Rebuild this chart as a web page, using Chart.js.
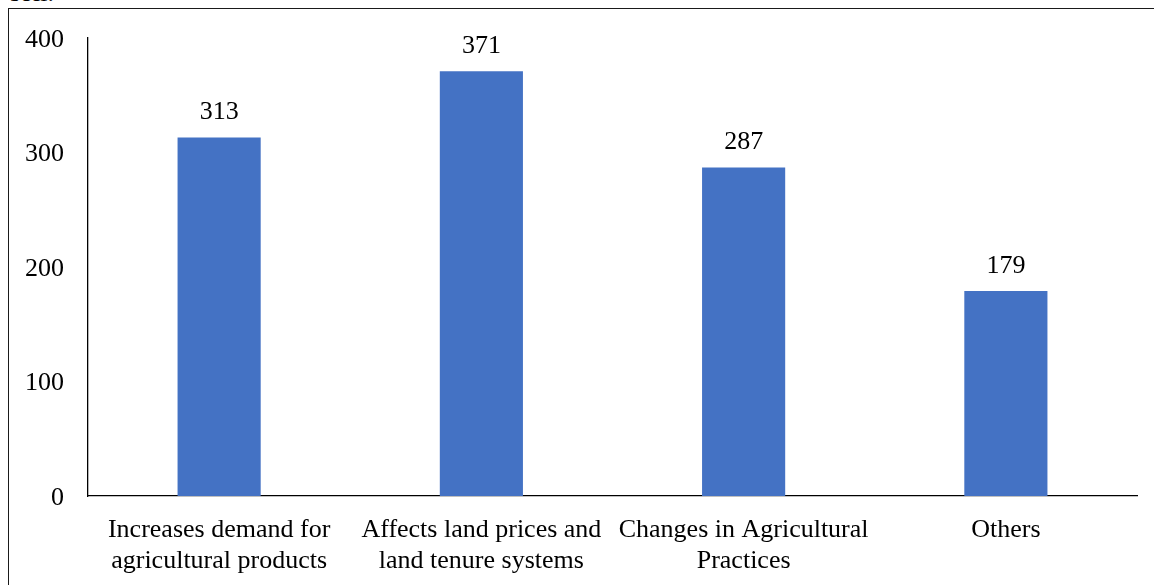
<!DOCTYPE html>
<html>
<head>
<meta charset="utf-8">
<script src="https://cdn.jsdelivr.net/npm/chart.js@4/dist/chart.umd.min.js"></script>
<style>
	html, body { margin: 0; padding: 0; background: #fff; overflow: hidden; }
	body { width: 1154px; height: 585px; position: relative; }
	#frame { position: absolute; left: 8px; top: 8px; width: 1300px; height: 700px; border: 1.5px solid #1a1a1a; box-sizing: border-box; }
	#cut { position: absolute; left: 10px; top: -22px; font: 26px 'Liberation Serif', serif; color: #000; }
	#wrap { position: absolute; left: 0; top: 0; width: 1154px; height: 585px; }
</style>
</head>
<body>
<div id="cut">soil.</div>
<div id="frame"></div>
<div id="wrap"><canvas id="chart"></canvas></div>
<script>
( function () {
	'use strict';

	var categories = [
		[ 'Increases demand for', 'agricultural products' ],
		[ 'Affects land prices and', 'land tenure systems' ],
		[ 'Changes in Agricultural', 'Practices' ],
		[ 'Others' ],
	];
	var counts = [ 313, 371, 287, 179 ];
	var yTicks = [ 0, 100, 200, 300, 400 ];

	var serif = "'Liberation Serif', 'Times New Roman', serif";

	// value labels above each bar
	var barLabels = {
		id: 'barLabels',
		afterDatasetsDraw: function ( chart ) {
			var ctx = chart.ctx;
			var meta = chart.getDatasetMeta( 0 );
			ctx.save();
			ctx.font = '26px ' + serif;
			ctx.fillStyle = '#000';
			ctx.textAlign = 'center';
			ctx.textBaseline = 'middle';
			meta.data.forEach( function ( bar, i ) {
				ctx.fillText( String( counts[ i ] ), bar.x, bar.y - 25 );
			} );
			ctx.restore();
		},
	};

	new Chart( document.getElementById( 'chart' ).getContext( '2d' ), {
		type: 'bar',
		data: {
			labels: categories,
			datasets: [ {
				data: counts,
				backgroundColor: '#4472C4',
				borderWidth: 0,
				categoryPercentage: 1,
				barPercentage: 0.317,
			} ],
		},
		options: {
			responsive: true,
			maintainAspectRatio: false,
			animation: false,
			layout: { padding: { top: 38, right: 17, bottom: 0, left: 0 } },
			plugins: {
				legend: { display: false },
				tooltip: { enabled: false },
			},
			scales: {
				x: {
					grid: { display: false },
					border: { display: true, color: '#000', width: 1.3 },
					ticks: {
						color: '#000',
						padding: 11,
						maxRotation: 0,
						autoSkip: false,
						font: { family: serif, size: 26, lineHeight: 1.19 },
					},
					afterFit: function ( scale ) { scale.height = 89; },
				},
				y: {
					min: 0,
					max: 400,
					grid: { display: false },
					border: { display: true, color: '#000', width: 1.3 },
					afterBuildTicks: function ( scale ) {
						scale.ticks = yTicks.map( function ( v ) { return { value: v }; } );
					},
					ticks: {
						color: '#000',
						padding: 16,
						labelOffset: 2,
						font: { family: serif, size: 26 },
					},
					afterFit: function ( scale ) { scale.width = 88; },
				},
			},
		},
		plugins: [ barLabels ],
	} );
} )();
</script>
</body>
</html>
